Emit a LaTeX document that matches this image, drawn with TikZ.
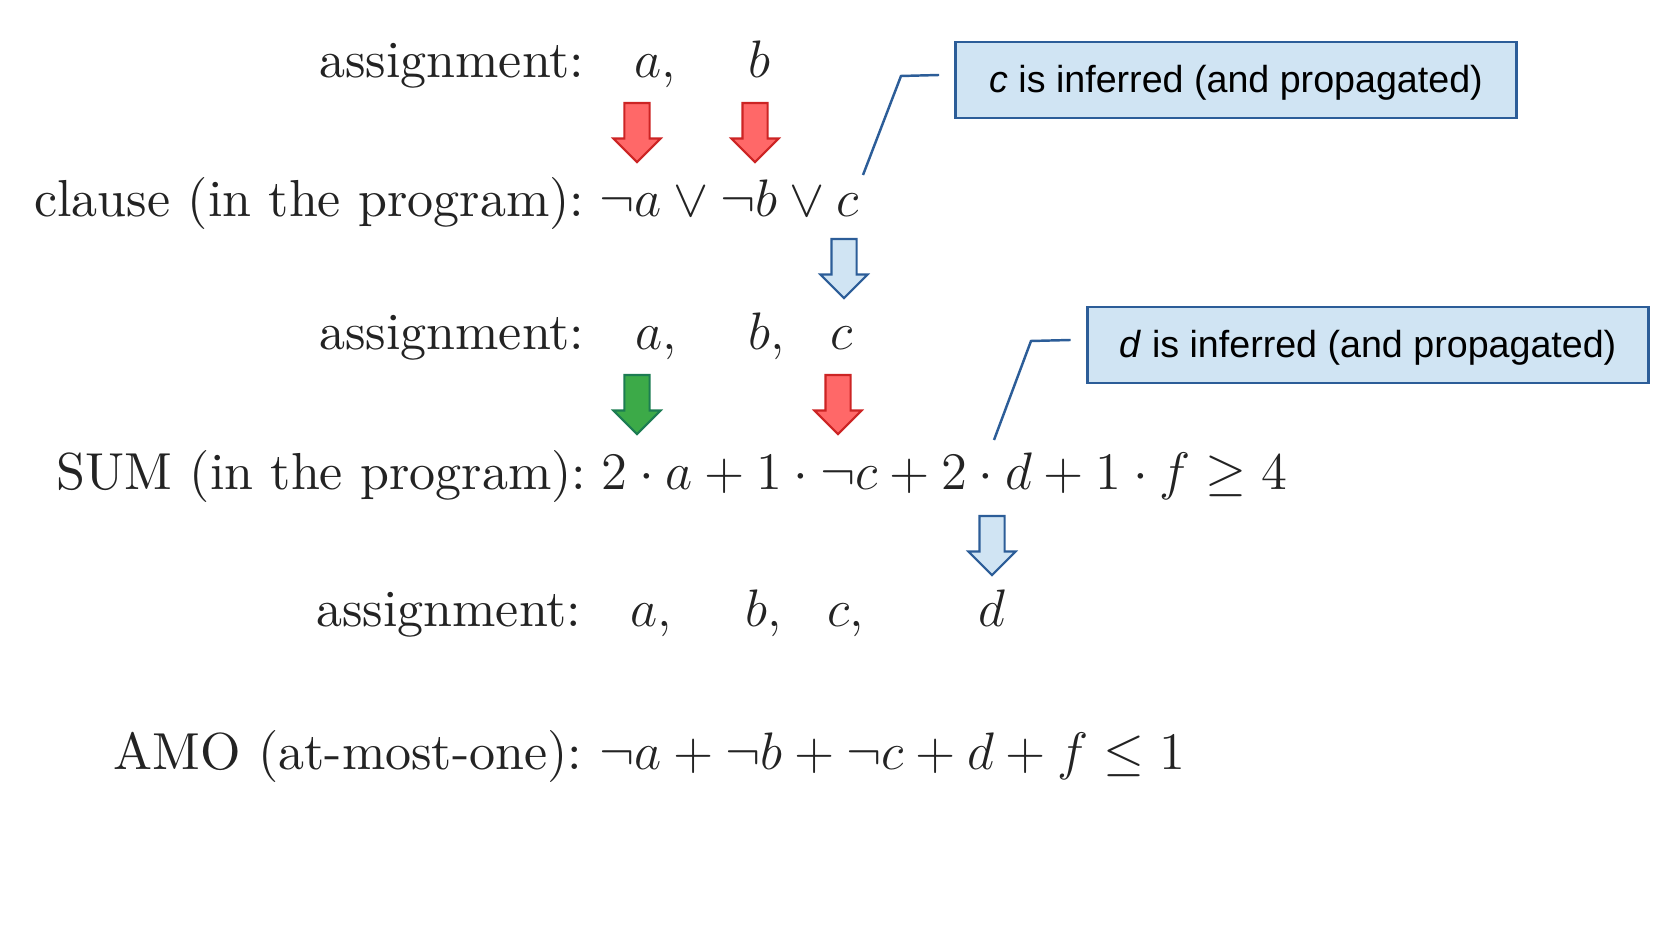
\RequirePackage{fix-cm}
\documentclass[tikz,border=0pt]{standalone}
\usepackage{fontspec}
\setmainfont{lmroman10-regular.otf}[ItalicFont=lmroman10-italic.otf,
  BoldFont=lmroman10-bold.otf]
\newfontfamily\notefont{Liberation Sans}
\usetikzlibrary{shapes.arrows}

\definecolor{ink}{RGB}{35,35,35}
\definecolor{arrred}{RGB}{255,104,104}
\definecolor{arrredline}{RGB}{204,36,36}
\definecolor{arrgreen}{RGB}{60,170,72}
\definecolor{arrgreenline}{RGB}{28,124,82}
\definecolor{notefill}{RGB}{208,228,243}
\definecolor{noteline}{RGB}{44,93,152}

\newcommand\labelsize{\fontsize{14.8}{18}\selectfont}
\newcommand\mathsize{\fontsize{15}{18}\selectfont}
\newcommand\notesize{\notefont\fontsize{10.7}{13}\selectfont}

\begin{document}
\begin{tikzpicture}[
  x=0.01cm, y=-0.01cm,
  every node/.style={inner sep=0pt, text=ink},
  rowlabel/.style={anchor=base east, font=\labelsize},
  formula/.style={anchor=base west, font=\mathsize},
  asgvar/.style={anchor=base west, font=\mathsize},
  notebox/.style={draw=noteline, fill=notefill, line width=0.7pt,
                  minimum width=5.61cm, minimum height=0.76cm,
                  text height=9.5pt, text depth=2.2pt,
                  font=\notesize, text=black},
  leader/.style={draw=noteline, line width=0.7pt},
  blockarr/.style={single arrow, rotate=-90, anchor=tail, line width=0.6pt,
                   minimum height=0.59cm, minimum width=0.46cm,
                   single arrow head extend=0.11cm,
                   single arrow tip angle=90,
                   inner xsep=0pt, inner ysep=0.115cm},
  redarr/.style={blockarr, fill=arrred, draw=arrredline},
  greenarr/.style={blockarr, fill=arrgreen, draw=arrgreenline},
  bluearr/.style={blockarr, fill=notefill, draw=noteline},
]
\useasboundingbox (0,0) rectangle (1654,931);

% first assignment
\node[rowlabel] (asg1) at (585,78) {assignment:};
\node[asgvar] (asg1a) at (634,78) {$a,$};
\node[asgvar] (asg1b) at (748,78) {$b$};

% clause
\node[rowlabel] (clause) at (585,217) {clause (in the program):};
\node[formula] (clausef) at (599,217) {$\neg a \vee \neg b \vee c$};

% second assignment
\node[rowlabel] (asg2) at (585,350) {assignment:};
\node[asgvar] (asg2a) at (635,350) {$a,$};
\node[asgvar] (asg2b) at (748,350) {$b,$};
\node[asgvar] (asg2c) at (830,350) {$c$};

% sum constraint
\node[rowlabel] (sum) at (587,490) {SUM (in the program):};
\node[formula] (sumf) at (601,490)
  {$2\cdot a + 1\cdot \neg c + 2\cdot d + 1\cdot f \geq 4$};

% third assignment
\node[rowlabel] (asg3) at (582,627) {assignment:};
\node[asgvar] (asg3a) at (630,627) {$a,$};
\node[asgvar] (asg3b) at (745,627) {$b,$};
\node[asgvar] (asg3c) at (827,627) {$c,$};
\node[asgvar] (asg3d) at (978,627) {$d$};

% at-most-one
\node[rowlabel] (amo) at (583,770) {AMO (at-most-one):};
\node[formula] (amof) at (599,770) {$\neg a + \neg b + \neg c + d + f \leq 1$};

% block arrows
\node[redarr] (ra) at (637,102) {};
\node[redarr] (rb) at (755,102) {};
\node[bluearr] (bc) at (844,238) {};
\node[greenarr] (ga) at (637,374) {};
\node[redarr] (rc) at (838,374) {};
\node[bluearr] (bd) at (992,515) {};

% callouts
\node[notebox] (notec) at (1236,80) {\textit{c} is inferred (and propagated)};
\node[notebox] (noted) at (1368,345) {\textit{d} is inferred (and propagated)};

\coordinate (tipc) at (863,175);
\coordinate (tipd) at (994,440);
\draw[leader] (tipc) -- (901,76) -- ([xshift=-0.15cm,yshift=0.05cm]notec.west);
\draw[leader] (tipd) -- (1031,341) -- ([xshift=-0.155cm,yshift=0.05cm]noted.west);
\end{tikzpicture}
\end{document}
